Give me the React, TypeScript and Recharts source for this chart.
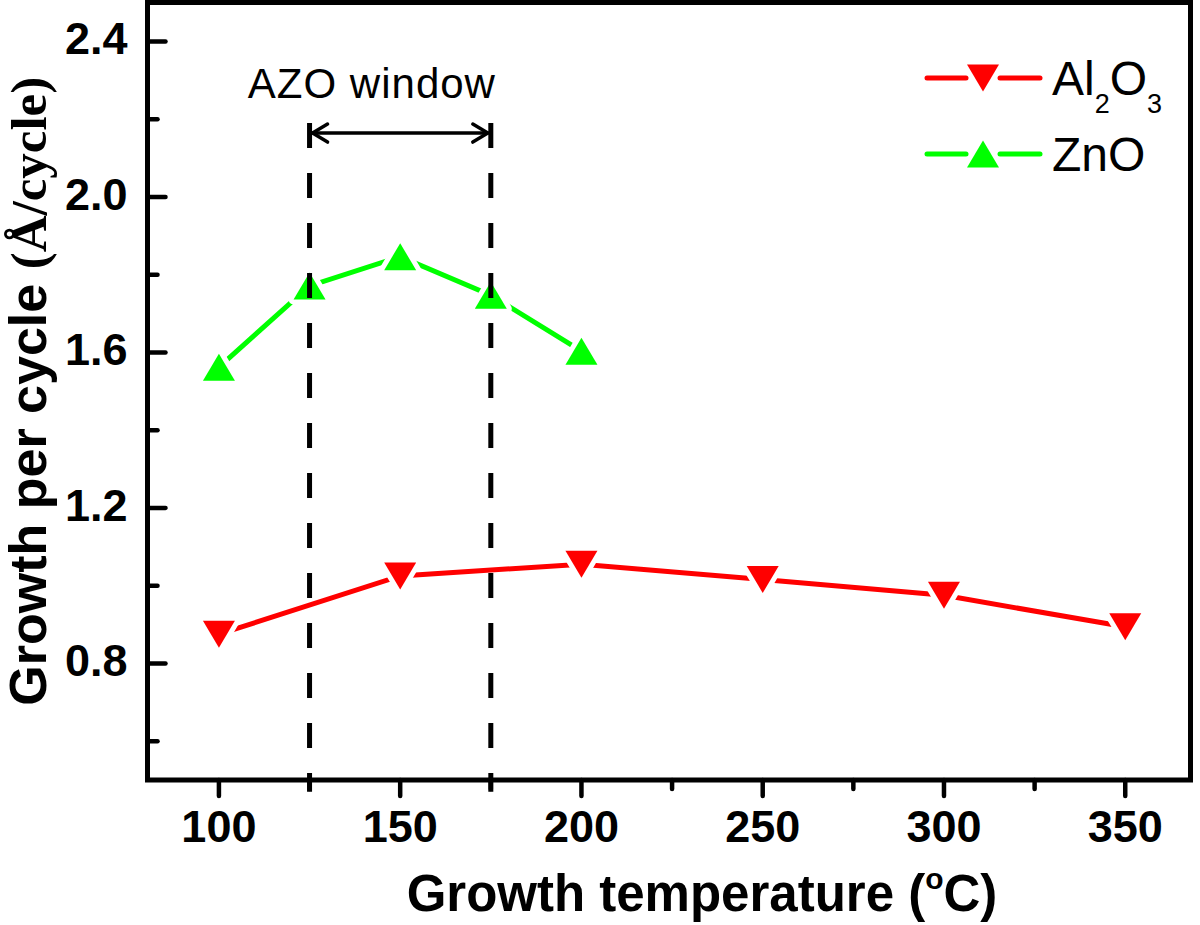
import { LineChart, Line, XAxis, YAxis, ReferenceLine, ReferenceArea, ReferenceDot, Legend } from "recharts";

// Growth per cycle vs growth temperature
const AL_TEMPS = [100, 150, 200, 250, 300, 350];
const AL_GPC = [0.875, 1.025, 1.055, 1.016, 0.975, 0.894];
const ZNO_TEMPS = [100, 125, 150, 175, 200];
const ZNO_GPC = [1.562, 1.771, 1.846, 1.747, 1.603];

const X_TICKS = [100, 125, 150, 175, 200, 225, 250, 275, 300, 325, 350];
const X_LABELED = [100, 150, 200, 250, 300, 350];
const Y_TICKS = [0.6, 0.8, 1.0, 1.2, 1.4, 1.6, 1.8, 2.0, 2.2, 2.4];
const Y_LABELED = [0.8, 1.2, 1.6, 2.0, 2.4];

const X_DOMAIN = [80.3, 368];
const Y_DOMAIN = [0.5, 2.5];
const WINDOW = [125, 175];
const ARROW_Y = 2.164;
const DASH_TOP = 2.19;

const alData = AL_TEMPS.map((t, i) => ({ t, v: AL_GPC[i] }));
const znoData = ZNO_TEMPS.map((t, i) => ({ t, v: ZNO_GPC[i] }));

const SANS = "'Liberation Sans', Arial, sans-serif";
const SERIF = "'Liberation Serif', 'Times New Roman', serif";
const RED = "#ff0000";
const GREEN = "#00ff00";

function Tri({ cx, cy, color, down, halo = true }: any) {
  const w = 16;
  const h = 13.5;
  const d = down
    ? `M${cx - w},${cy - h} L${cx + w},${cy - h} L${cx},${cy + h} Z`
    : `M${cx - w},${cy + h} L${cx + w},${cy + h} L${cx},${cy - h} Z`;
  return (
    <path
      d={d}
      fill={color}
      stroke={halo ? "#fff" : "none"}
      strokeWidth={halo ? 10 : 0}
      strokeLinejoin="round"
      paintOrder="stroke"
    />
  );
}

function XTick(p: any) {
  const v = p.payload.value;
  const major = X_LABELED.includes(v);
  return (
    <g>
      <line x1={p.x} x2={p.x} y1={p.y} y2={p.y + (major ? 16 : 9)} stroke="#000" strokeWidth={4.5} strokeLinecap="round" />
      {major && (
        <text x={p.x} y={p.y + 62} textAnchor="middle" fontFamily={SANS} fontWeight="bold" fontSize={45} fill="#000">
          {v}
        </text>
      )}
    </g>
  );
}

function YTick(p: any) {
  const v = p.payload.value;
  const major = Y_LABELED.some((m) => Math.abs(m - v) < 1e-6);
  return (
    <g>
      <line x1={p.x} x2={p.x + (major ? 18 : 10)} y1={p.y} y2={p.y} stroke="#000" strokeWidth={4.5} strokeLinecap="round" />
      {major && (
        <text x={p.x - 20} y={p.y + 13} textAnchor="end" fontFamily={SANS} fontWeight="bold" fontSize={45} fill="#000">
          {v.toFixed(1)}
        </text>
      )}
    </g>
  );
}

function XLabel({ viewBox }: any) {
  const cx = viewBox.x + viewBox.width / 2 + 33;
  return (
    <text x={cx} y={viewBox.y + 131} textAnchor="middle" fontFamily={SANS} fontWeight="bold" fontSize={51} fill="#000">
      Growth temperature (
      <tspan fontSize={30} dy={-22}>o</tspan>
      <tspan dy={22}>C)</tspan>
    </text>
  );
}

function YLabel({ viewBox }: any) {
  const x = viewBox.x - 1.5;
  const y = viewBox.y + viewBox.height / 2;
  return (
    <text transform={`rotate(-90, ${x}, ${y})`} x={x} y={y} textAnchor="middle" fontWeight="bold" fontSize={52} fill="#000" xmlSpace="preserve">
      <tspan fontFamily={SANS}>Growth per cycle </tspan>
      <tspan fontFamily={SERIF} fontSize={51}>(Å/cycle)</tspan>
    </text>
  );
}

function Arrow(p: any) {
  const { x1, y1, x2 } = p;
  const L = 18;
  const H = 9;
  return (
    <g stroke="#000" strokeWidth={3.5} fill="none" strokeLinecap="round" strokeLinejoin="round">
      <line x1={x1 + 3} y1={y1} x2={x2 - 3} y2={y1} />
      <polyline points={`${x1 + L},${y1 - H} ${x1 + 3},${y1} ${x1 + L},${y1 + H}`} />
      <polyline points={`${x2 - L},${y1 - H} ${x2 - 3},${y1} ${x2 - L},${y1 + H}`} />
    </g>
  );
}

function WindowText({ viewBox }: any) {
  const cx = viewBox.x + viewBox.width / 2;
  const cy = viewBox.y + viewBox.height / 2;
  return (
    <text x={cx} y={cy} textAnchor="middle" fontFamily={SANS} fontSize={42} letterSpacing={1} fill="#000">
      AZO window
    </text>
  );
}

function formula(s: string) {
  return s.split(/(\d)/).filter(Boolean).map((part, i) =>
    /\d/.test(part) ? (
      <tspan key={i} fontSize={27} dy={18}>{part}</tspan>
    ) : (
      <tspan key={i} dy={i === 0 ? 0 : -18}>{part}</tspan>
    )
  );
}

function LegendBox({ payload }: any) {
  return (
    <svg width={280} height={140} style={{ display: "block" }}>
      {(payload || []).map((e: any, i: number) => {
        const y = 28 + i * 76;
        const down = e.value === "Al2O3";
        return (
          <g key={e.value}>
            <line x1={7} x2={46} y1={y} y2={y} stroke={e.color} strokeWidth={5} strokeLinecap="round" />
            <line x1={80} x2={120} y1={y} y2={y} stroke={e.color} strokeWidth={5} strokeLinecap="round" />
            <Tri cx={63} cy={y} color={e.color} down={down} halo={false} />
            <text x={132} y={y + 17} fontFamily={SANS} fontSize={48} fill="#000">
              {formula(e.value)}
            </text>
          </g>
        );
      })}
    </svg>
  );
}

export default function App() {
  return (
    <div style={{ position: "absolute", left: 0, top: 0, background: "#fff" }}>
      <LineChart width={1200} height={925} margin={{ top: 2.5, right: 9.5, left: 47.5, bottom: 45 }}>
        <XAxis
          type="number"
          dataKey="t"
          domain={X_DOMAIN}
          allowDataOverflow
          ticks={X_TICKS}
          interval={0}
          axisLine={false}
          tickLine={false}
          tickSize={0}
          tickMargin={0}
          tick={<XTick />}
          height={100}
          label={<XLabel />}
        />
        <YAxis
          type="number"
          domain={Y_DOMAIN}
          allowDataOverflow
          ticks={Y_TICKS}
          interval={0}
          axisLine={false}
          tickLine={false}
          tickSize={0}
          tickMargin={0}
          tick={<YTick />}
          width={100}
          label={<YLabel />}
        />
        <Legend
          layout="vertical"
          align="center"
          verticalAlign="middle"
          wrapperStyle={{ left: 920, top: 50, width: 280 }}
          content={<LegendBox />}
        />
        <Line
          name="Al2O3"
          data={alData}
          dataKey="v"
          stroke={RED}
          strokeWidth={5}
          strokeLinecap="round"
          isAnimationActive={false}
          activeDot={false}
          dot={(p: any) => <Tri key={`a${p.index}`} cx={p.cx} cy={p.cy} color={RED} down />}
        />
        <Line
          name="ZnO"
          data={znoData}
          dataKey="v"
          stroke={GREEN}
          strokeWidth={5}
          strokeLinecap="round"
          isAnimationActive={false}
          activeDot={false}
          dot={(p: any) => <Tri key={`z${p.index}`} cx={p.cx} cy={p.cy} color={GREEN} />}
        />
        {WINDOW.map((w) => (
          <ReferenceLine
            key={w}
            segment={[{ x: w, y: DASH_TOP }, { x: w, y: 0.47 }]}
            stroke="#000"
            strokeWidth={5}
            strokeDasharray="25 25"
            ifOverflow="visible"
            zIndex={1500}
          />
        ))}
        <ReferenceLine
          segment={[{ x: WINDOW[0], y: ARROW_Y }, { x: WINDOW[1], y: ARROW_Y }]}
          shape={<Arrow />}
          ifOverflow="visible"
          zIndex={1500}
        />
        <ReferenceDot x={142.2} y={2.254} r={0} fill="none" stroke="none" label={<WindowText />} ifOverflow="visible" />
        <ReferenceArea
          x1={X_DOMAIN[0]}
          x2={X_DOMAIN[1]}
          y1={Y_DOMAIN[0]}
          y2={Y_DOMAIN[1]}
          fill="none"
          fillOpacity={0}
          stroke="#000"
          strokeWidth={5}
          strokeOpacity={1}
          ifOverflow="visible"
          zIndex={1600}
        />
      </LineChart>
    </div>
  );
}
